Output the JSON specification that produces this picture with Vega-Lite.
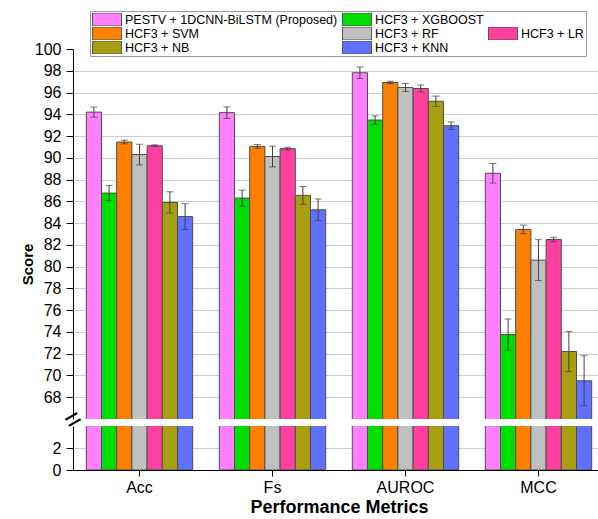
{
  "$schema": "https://vega.github.io/schema/vega-lite/v6.json",
  "autosize": {"type": "pad"},
  "padding": {"left": 20, "top": 10, "right": 0, "bottom": 0},
  "spacing": 7,
  "bounds": "flush",
  "config": {
    "font": "Liberation Sans",
    "view": {"stroke": null},
    "axis": {"labelColor": "black", "titleColor": "black", "domainColor": "black", "tickColor": "black", "domainWidth": 1, "tickWidth": 1, "labelFont": "Liberation Sans", "titleFont": "Liberation Sans", "labelOverlap": false}
  },
  "data": {"values": [
    {"metric": "Acc", "model": "PESTV + 1DCNN-BiLSTM (Proposed)", "score": 94.2, "lo": 93.73, "hi": 94.67},
    {"metric": "Acc", "model": "HCF3 + XGBOOST", "score": 86.76, "lo": 86.06, "hi": 87.46},
    {"metric": "Acc", "model": "HCF3 + SVM", "score": 91.45, "lo": 91.28, "hi": 91.62},
    {"metric": "Acc", "model": "HCF3 + RF", "score": 90.3, "lo": 89.35, "hi": 91.25},
    {"metric": "Acc", "model": "HCF3 + LR", "score": 91.11, "lo": 91.03, "hi": 91.19},
    {"metric": "Acc", "model": "HCF3 + NB", "score": 85.9, "lo": 84.92, "hi": 86.88},
    {"metric": "Acc", "model": "HCF3 + KNN", "score": 84.6, "lo": 83.42, "hi": 85.78},
    {"metric": "Fs", "model": "PESTV + 1DCNN-BiLSTM (Proposed)", "score": 94.15, "lo": 93.62, "hi": 94.68},
    {"metric": "Fs", "model": "HCF3 + XGBOOST", "score": 86.3, "lo": 85.57, "hi": 87.03},
    {"metric": "Fs", "model": "HCF3 + SVM", "score": 91.05, "lo": 90.88, "hi": 91.22},
    {"metric": "Fs", "model": "HCF3 + RF", "score": 90.12, "lo": 89.17, "hi": 91.07},
    {"metric": "Fs", "model": "HCF3 + LR", "score": 90.84, "lo": 90.72, "hi": 90.96},
    {"metric": "Fs", "model": "HCF3 + NB", "score": 86.55, "lo": 85.73, "hi": 87.37},
    {"metric": "Fs", "model": "HCF3 + KNN", "score": 85.22, "lo": 84.22, "hi": 86.22},
    {"metric": "AUROC", "model": "PESTV + 1DCNN-BiLSTM (Proposed)", "score": 97.82, "lo": 97.29, "hi": 98.35},
    {"metric": "AUROC", "model": "HCF3 + XGBOOST", "score": 93.47, "lo": 93.09, "hi": 93.85},
    {"metric": "AUROC", "model": "HCF3 + SVM", "score": 96.92, "lo": 96.8, "hi": 97.04},
    {"metric": "AUROC", "model": "HCF3 + RF", "score": 96.46, "lo": 96.09, "hi": 96.83},
    {"metric": "AUROC", "model": "HCF3 + LR", "score": 96.37, "lo": 96.05, "hi": 96.69},
    {"metric": "AUROC", "model": "HCF3 + NB", "score": 95.2, "lo": 94.73, "hi": 95.67},
    {"metric": "AUROC", "model": "HCF3 + KNN", "score": 92.95, "lo": 92.6, "hi": 93.3},
    {"metric": "MCC", "model": "PESTV + 1DCNN-BiLSTM (Proposed)", "score": 88.58, "lo": 87.68, "hi": 89.48},
    {"metric": "MCC", "model": "HCF3 + XGBOOST", "score": 73.76, "lo": 72.33, "hi": 75.19},
    {"metric": "MCC", "model": "HCF3 + SVM", "score": 83.42, "lo": 83.02, "hi": 83.82},
    {"metric": "MCC", "model": "HCF3 + RF", "score": 80.6, "lo": 78.72, "hi": 82.48},
    {"metric": "MCC", "model": "HCF3 + LR", "score": 82.49, "lo": 82.29, "hi": 82.69},
    {"metric": "MCC", "model": "HCF3 + NB", "score": 72.2, "lo": 70.35, "hi": 74.05},
    {"metric": "MCC", "model": "HCF3 + KNN", "score": 69.51, "lo": 67.21, "hi": 71.81}
  ]},
  "resolve": {"scale": {"x": "independent", "y": "independent", "color": "independent"}, "legend": {"color": "independent"}},
  "vconcat": [
    {
      "width": 526,
      "height": 370,
      "encoding": {
        "x": {"field": "metric", "type": "nominal", "sort": ["Acc", "Fs", "AUROC", "MCC"], "scale": {"range": [0, 532], "paddingInner": 0.2, "paddingOuter": 0.1}, "axis": null},
        "xOffset": {"field": "model", "type": "nominal", "scale": {"domain": ["PESTV + 1DCNN-BiLSTM (Proposed)", "HCF3 + XGBOOST", "HCF3 + SVM", "HCF3 + RF", "HCF3 + LR", "HCF3 + NB", "HCF3 + KNN"]}}
      },
      "layer": [
        {
          "mark": {"type": "bar", "clip": true, "stroke": "#4d4d4d", "strokeWidth": 1},
          "encoding": {
            "y": {"field": "score", "type": "quantitative", "scale": {"domain": [66, 100], "zero": false, "nice": false},
              "axis": {"values": [68, 70, 72, 74, 76, 78, 80, 82, 84, 86, 88, 90, 92, 94, 96, 98, 100], "tickCount": 40, "labelOverlap": false, "grid": true, "gridColor": "#cccccc", "gridOpacity": {"condition": {"test": "datum.value === 100", "value": 0}, "value": 1}, "tickSize": 7, "labelFontSize": 16, "labelPadding": 5, "title": "Score", "titleFontSize": 15, "titleFontWeight": "bold", "titleX": -38, "titleY": 215}},
            "color": {"field": "model", "type": "nominal",
              "scale": {"domain": ["PESTV + 1DCNN-BiLSTM (Proposed)", "HCF3 + XGBOOST", " ", "HCF3 + SVM", "HCF3 + RF", "HCF3 + LR", "HCF3 + NB", "HCF3 + KNN"],
                        "range": ["#ff80ff", "#00dd00", "#ffffff", "#ff8000", "#c0c0c0", "#ff40a0", "#a89e12", "#6070ff"]},
              "legend": {"title": null, "orient": "none", "legendX": 17, "legendY": -38, "direction": "horizontal", "columns": 3, "symbolType": "M-2.23,-1H2.23V1H-2.23Z", "symbolSize": 169, "symbolOffset": 8, "symbolStrokeColor": "#555555", "symbolStrokeWidth": 1, "labelFontSize": 12.5, "labelColor": "black", "labelOffset": 11, "labelLimit": 400, "columnPadding": 4, "rowPadding": 1, "clipHeight": 13, "strokeColor": "#999999", "fillColor": "white", "padding": 2,
                "encoding": {"symbols": {"opacity": {"condition": {"test": "datum.value === ' '", "value": 0}, "value": 1}}}}}
          }
        },
        {
          "mark": {"type": "rule", "color": "#404040", "strokeWidth": 1},
          "encoding": {"y": {"field": "lo", "type": "quantitative"}, "y2": {"field": "hi"}}
        },
        {
          "mark": {"type": "tick", "orient": "horizontal", "color": "#404040", "size": 7, "thickness": 1},
          "encoding": {"y": {"field": "lo", "type": "quantitative"}}
        },
        {
          "mark": {"type": "tick", "orient": "horizontal", "color": "#404040", "size": 7, "thickness": 1},
          "encoding": {"y": {"field": "hi", "type": "quantitative"}}
        }
      ]
    },
    {
      "width": 526,
      "height": 44,
      "mark": {"type": "bar", "clip": true, "stroke": "#4d4d4d", "strokeWidth": 1},
      "encoding": {
        "x": {"field": "metric", "type": "nominal", "sort": ["Acc", "Fs", "AUROC", "MCC"], "scale": {"range": [0, 532], "paddingInner": 0.2, "paddingOuter": 0.1},
          "axis": {"labelAngle": 0, "labelFontSize": 16, "tickSize": 6, "labelPadding": 3, "title": "Performance Metrics", "titleFontSize": 18, "titleFontWeight": "bold", "titlePadding": 3}},
        "xOffset": {"field": "model", "type": "nominal", "scale": {"domain": ["PESTV + 1DCNN-BiLSTM (Proposed)", "HCF3 + XGBOOST", "HCF3 + SVM", "HCF3 + RF", "HCF3 + LR", "HCF3 + NB", "HCF3 + KNN"]}},
        "y": {"field": "score", "type": "quantitative", "scale": {"domain": [0, 4], "zero": true, "nice": false},
          "axis": {"values": [0, 2], "grid": true, "gridColor": "#cccccc", "tickSize": 7, "labelFontSize": 16, "labelPadding": 5, "title": "=", "titleAngle": 330, "titleFontSize": 28, "titleFontWeight": "normal", "titleAlign": "center", "titleBaseline": "middle", "titleX": 0, "titleY": -6}},
        "color": {"field": "model", "type": "nominal",
          "scale": {"domain": ["PESTV + 1DCNN-BiLSTM (Proposed)", "HCF3 + XGBOOST", " ", "HCF3 + SVM", "HCF3 + RF", "HCF3 + LR", "HCF3 + NB", "HCF3 + KNN"],
                    "range": ["#ff80ff", "#00dd00", "#ffffff", "#ff8000", "#c0c0c0", "#ff40a0", "#a89e12", "#6070ff"]},
          "legend": null}
      }
    }
  ]
}
